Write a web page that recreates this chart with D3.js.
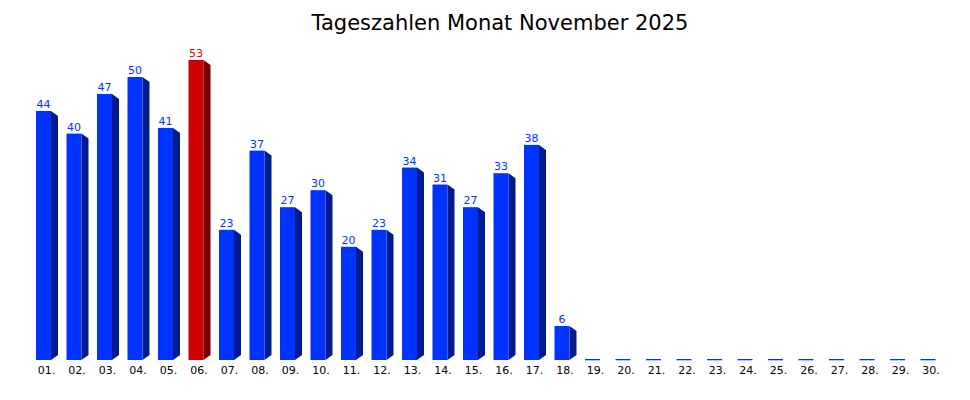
<!DOCTYPE html>
<html><head><meta charset="utf-8">
<script src="https://cdn.jsdelivr.net/npm/d3@7"></script>
<style>body{margin:0;background:#fff}svg{display:block}</style>
</head><body>
<svg id="c" width="970" height="400"></svg>
<script>
const title = "Tageszahlen Monat November 2025";
const days = ["01.","02.","03.","04.","05.","06.","07.","08.","09.","10.","11.","12.","13.","14.","15.","16.","17.","18.","19.","20.","21.","22.","23.","24.","25.","26.","27.","28.","29.","30."];
const values = [44,40,47,50,41,53,23,37,27,30,20,23,34,31,27,33,38,6,0,0,0,0,0,0,0,0,0,0,0,0];

const svg = d3.select("#c");
const W = 970, H = 400;
const base = 360, topY = 60;
const x = d3.scaleBand().domain(days).range([28.25, 943.25]).paddingInner(0.508).paddingOuter(0.254);
const y = d3.scaleLinear().domain([0, d3.max(values)]).range([base, topY]);
const maxV = d3.max(values);
const sideW = 7, slant = 5;

svg.append("text").attr("x", 500).attr("y", 30).attr("text-anchor","middle")
  .attr("font-family","DejaVu Sans").attr("font-size", 21).attr("fill","#000").text(title);

const g = svg.append("g");
days.forEach((d,i)=>{
  const v = values[i];
  const x0 = x(d), bw = x.bandwidth();
  const isMax = v === maxV;
  const front = isMax ? "#cc0000" : "#0033ff";
  const side = isMax ? "#770000" : "#001b8e";
  const lab = isMax ? "#dd0000" : "#0033ff";
  if (v > 0) {
    const yt = y(v);
    g.append("path").attr("d", `M${x0+bw},${yt} L${x0+bw+sideW},${yt+slant} L${x0+bw+sideW},${base-slant} L${x0+bw},${base} Z`).attr("fill", side);
    g.append("rect").attr("x", x0).attr("y", yt).attr("width", bw).attr("height", base-yt).attr("fill", front);
    g.append("text").attr("x", x0+bw/2).attr("y", yt-3).attr("text-anchor","middle")
      .attr("font-family","DejaVu Sans").attr("font-size", 11).attr("fill", lab).text(v);
  } else {
    g.append("rect").attr("x", x0).attr("y", base-1).attr("width", bw).attr("height", 1.3).attr("fill", front);
  }
});

const xAxis = svg.append("g").attr("transform", `translate(3,${base})`)
  .call(d3.axisBottom(x).tickSize(0).tickPadding(6));
xAxis.select(".domain").remove();
xAxis.selectAll("text").attr("font-family","DejaVu Sans").attr("font-size", 11).attr("fill","#000");
</script>
</body></html>
